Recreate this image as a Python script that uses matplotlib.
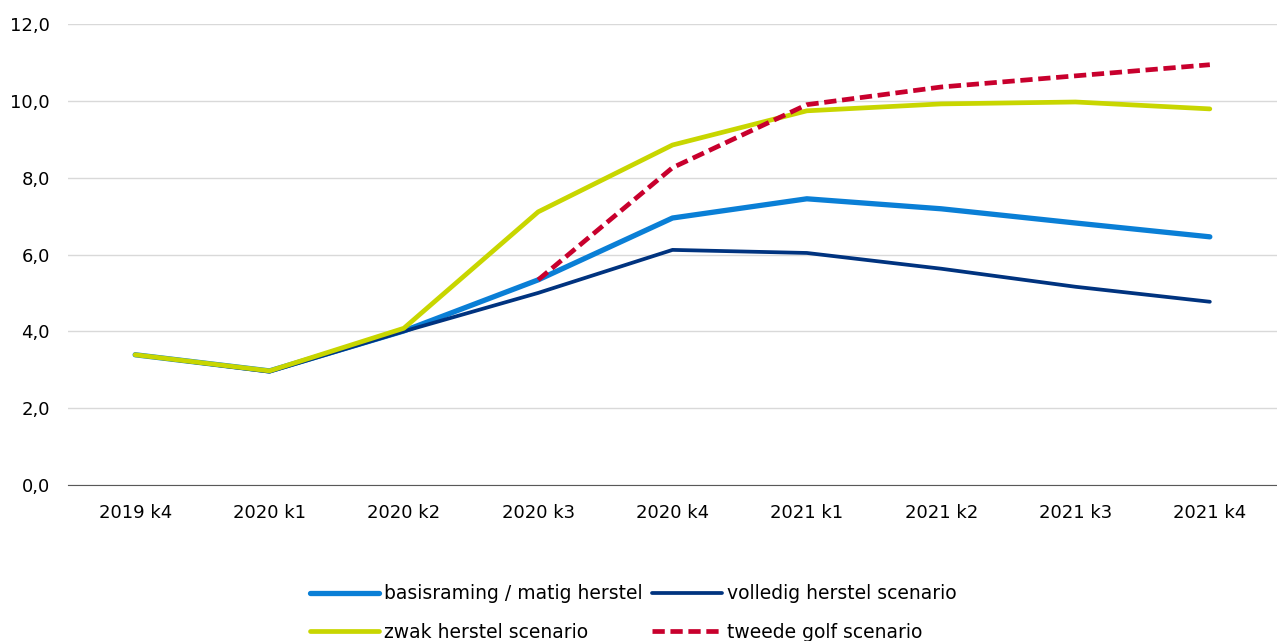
import matplotlib
matplotlib.use("Agg")
import matplotlib.pyplot as plt
from matplotlib.ticker import FuncFormatter

# kwartalen en scenario's
kwartalen = ['2019 k4', '2020 k1', '2020 k2', '2020 k3', '2020 k4',
             '2021 k1', '2021 k2', '2021 k3', '2021 k4']
basisraming = [3.39, 2.97, 4.01, 5.34, 6.95, 7.45, 7.19, 6.82, 6.46]
volledig_herstel = [3.39, 2.95, 4.00, 5.00, 6.12, 6.04, 5.63, 5.16, 4.77]
zwak_herstel = [3.39, 2.97, 4.08, 7.11, 8.85, 9.74, 9.92, 9.97, 9.79]
tweede_golf_kwartalen = kwartalen[3:]
tweede_golf = [5.34, 8.26, 9.90, 10.36, 10.65, 10.94]

plt.rcParams['font.family'] = ['DejaVu Sans']

fig = plt.figure(figsize=(12.77, 6.41), dpi=100)
ax = fig.add_axes([68 / 1277, 1 - 485 / 641, (1277 - 68) / 1277, (485 - 24) / 641])

x = list(range(len(kwartalen)))
x_golf = [kwartalen.index(k) for k in tweede_golf_kwartalen]

l_basis, = ax.plot(x, basisraming, color='#0a7fd6', lw=3.8, label='basisraming / matig herstel',
                   solid_capstyle='round', zorder=3)
l_vol, = ax.plot(x, volledig_herstel, color='#00337f', lw=2.7, label='volledig herstel scenario',
                 solid_capstyle='round', zorder=4)
l_zwak, = ax.plot(x, zwak_herstel, color='#c8d600', lw=3.4, label='zwak herstel scenario',
                  solid_capstyle='round', zorder=5)
l_golf, = ax.plot(x_golf, tweede_golf, color='#c8002d', lw=3.4, ls=(0, (2.6, 1.2)),
                  label='tweede golf scenario', zorder=6)

ax.set_xlim(-0.5, len(kwartalen) - 0.5)
ax.set_ylim(0, 12)
ax.set_yticks([0, 2, 4, 6, 8, 10, 12])
ax.yaxis.set_major_formatter(FuncFormatter(lambda v, p: f'{v:.1f}'.replace('.', ',')))
ax.set_xticks(x)
ax.set_xticklabels(kwartalen)

ax.grid(axis='y', color='#d9d9d9', lw=1)
ax.set_axisbelow(True)
for side in ['top', 'right', 'left']:
    ax.spines[side].set_visible(False)
ax.spines['bottom'].set_color('#595959')
ax.tick_params(axis='both', length=0, labelsize=13, colors='#000000')
ax.tick_params(axis='x', pad=14)
ax.tick_params(axis='y', pad=13)

# volgorde zo dat de legenda rij voor rij leest
ax.legend([l_basis, l_zwak, l_vol, l_golf],
          [l.get_label() for l in [l_basis, l_zwak, l_vol, l_golf]],
          loc='upper left', bbox_to_anchor=((310 - 68) / 1209, -0.215), ncol=2, frameon=False,
          fontsize=13.5, handlelength=3.7, handletextpad=0.27, columnspacing=0.5,
          labelspacing=1.06, borderpad=0, borderaxespad=0)

fig.savefig('out.png', dpi=100)
